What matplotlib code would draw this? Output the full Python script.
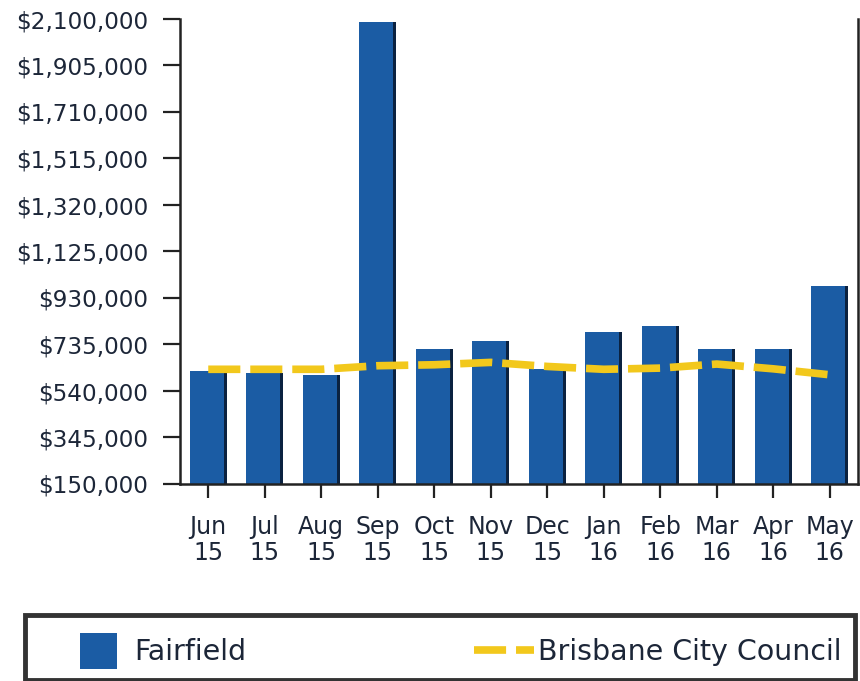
import matplotlib
matplotlib.use('Agg')
import matplotlib.pyplot as plt
from matplotlib.ticker import FuncFormatter
from matplotlib.patches import Rectangle
from matplotlib.legend_handler import HandlerPatch

months = ['Jun\n15', 'Jul\n15', 'Aug\n15', 'Sep\n15', 'Oct\n15', 'Nov\n15',
          'Dec\n15', 'Jan\n16', 'Feb\n16', 'Mar\n16', 'Apr\n16', 'May\n16']
fairfield = [622000, 615000, 605000, 2088000, 716000, 751000,
             633000, 787000, 811000, 716000, 717000, 980000]
brisbane = [631000, 631000, 631000, 646000, 650000, 660000,
            643000, 631000, 636000, 653000, 633000, 608000]
yticks = [150000 + 195000 * i for i in range(11)]

bar_col = '#1b5ca4'
line_col = '#f2c81c'
txt_col = '#1c2638'

fig = plt.figure(figsize=(8.6, 6.81), dpi=100)
ax = fig.add_axes([180/860, 1 - 484/681, 678/860, 465/681])

x = list(range(len(months)))
bars = ax.bar(x, fairfield, width=0.65, color=bar_col, label='Fairfield', zorder=2)
# dark shadow on right edge of bars
ax.bar([i + 0.3 for i in x], fairfield, width=0.05, color='#0b2240', zorder=2)
ln, = ax.plot(x, brisbane, color=line_col, lw=5.5, dashes=(4.2, 1.3),
              label='Brisbane City Council', zorder=3)

ax.set_xlim(-0.5, 11.5)
ax.set_ylim(150000, 2100000)
ax.set_yticks(yticks)
ax.yaxis.set_major_formatter(FuncFormatter(lambda v, p: '${:,.0f}'.format(v)))
ax.set_xticks(x)
ax.set_xticklabels(months, linespacing=1.15)
ax.tick_params(axis='y', direction='out', length=12, width=1.6, color='#222222',
               labelsize=16.7, labelcolor=txt_col, pad=11)
ax.tick_params(axis='x', direction='out', length=10, width=1.6, color='#222222',
               labelsize=17, labelcolor=txt_col, pad=12)
ax.spines['top'].set_visible(False)
for s in ['left', 'bottom', 'right']:
    ax.spines[s].set_linewidth(1.8)
    ax.spines[s].set_color('#222222')


def square_patch(legend, orig_handle, xdescent, ydescent, width, height, fontsize):
    side = 26.6
    return Rectangle((-xdescent + 7.2, -ydescent + (height - side) / 2 - 0.7), side, side)


# legend frame
fig.patches.append(Rectangle((25/860, 1.5/681), 830/860, 64.5/681, transform=fig.transFigure,
                             fill=False, edgecolor='#333333', lw=3.5, zorder=5))
leg = fig.legend([bars[0], ln], ['Fairfield', 'Brisbane City Council'], ncol=2,
                 mode='expand', loc='center',
                 bbox_to_anchor=(70/860, 0, 772/860, 58/681),
                 fontsize=20.5, frameon=False, handlelength=2.1,
                 handletextpad=0.15, borderpad=0, borderaxespad=0,
                 labelcolor=txt_col,
                 handler_map={Rectangle: HandlerPatch(patch_func=square_patch)})

fig.savefig('out.png', dpi=100)
